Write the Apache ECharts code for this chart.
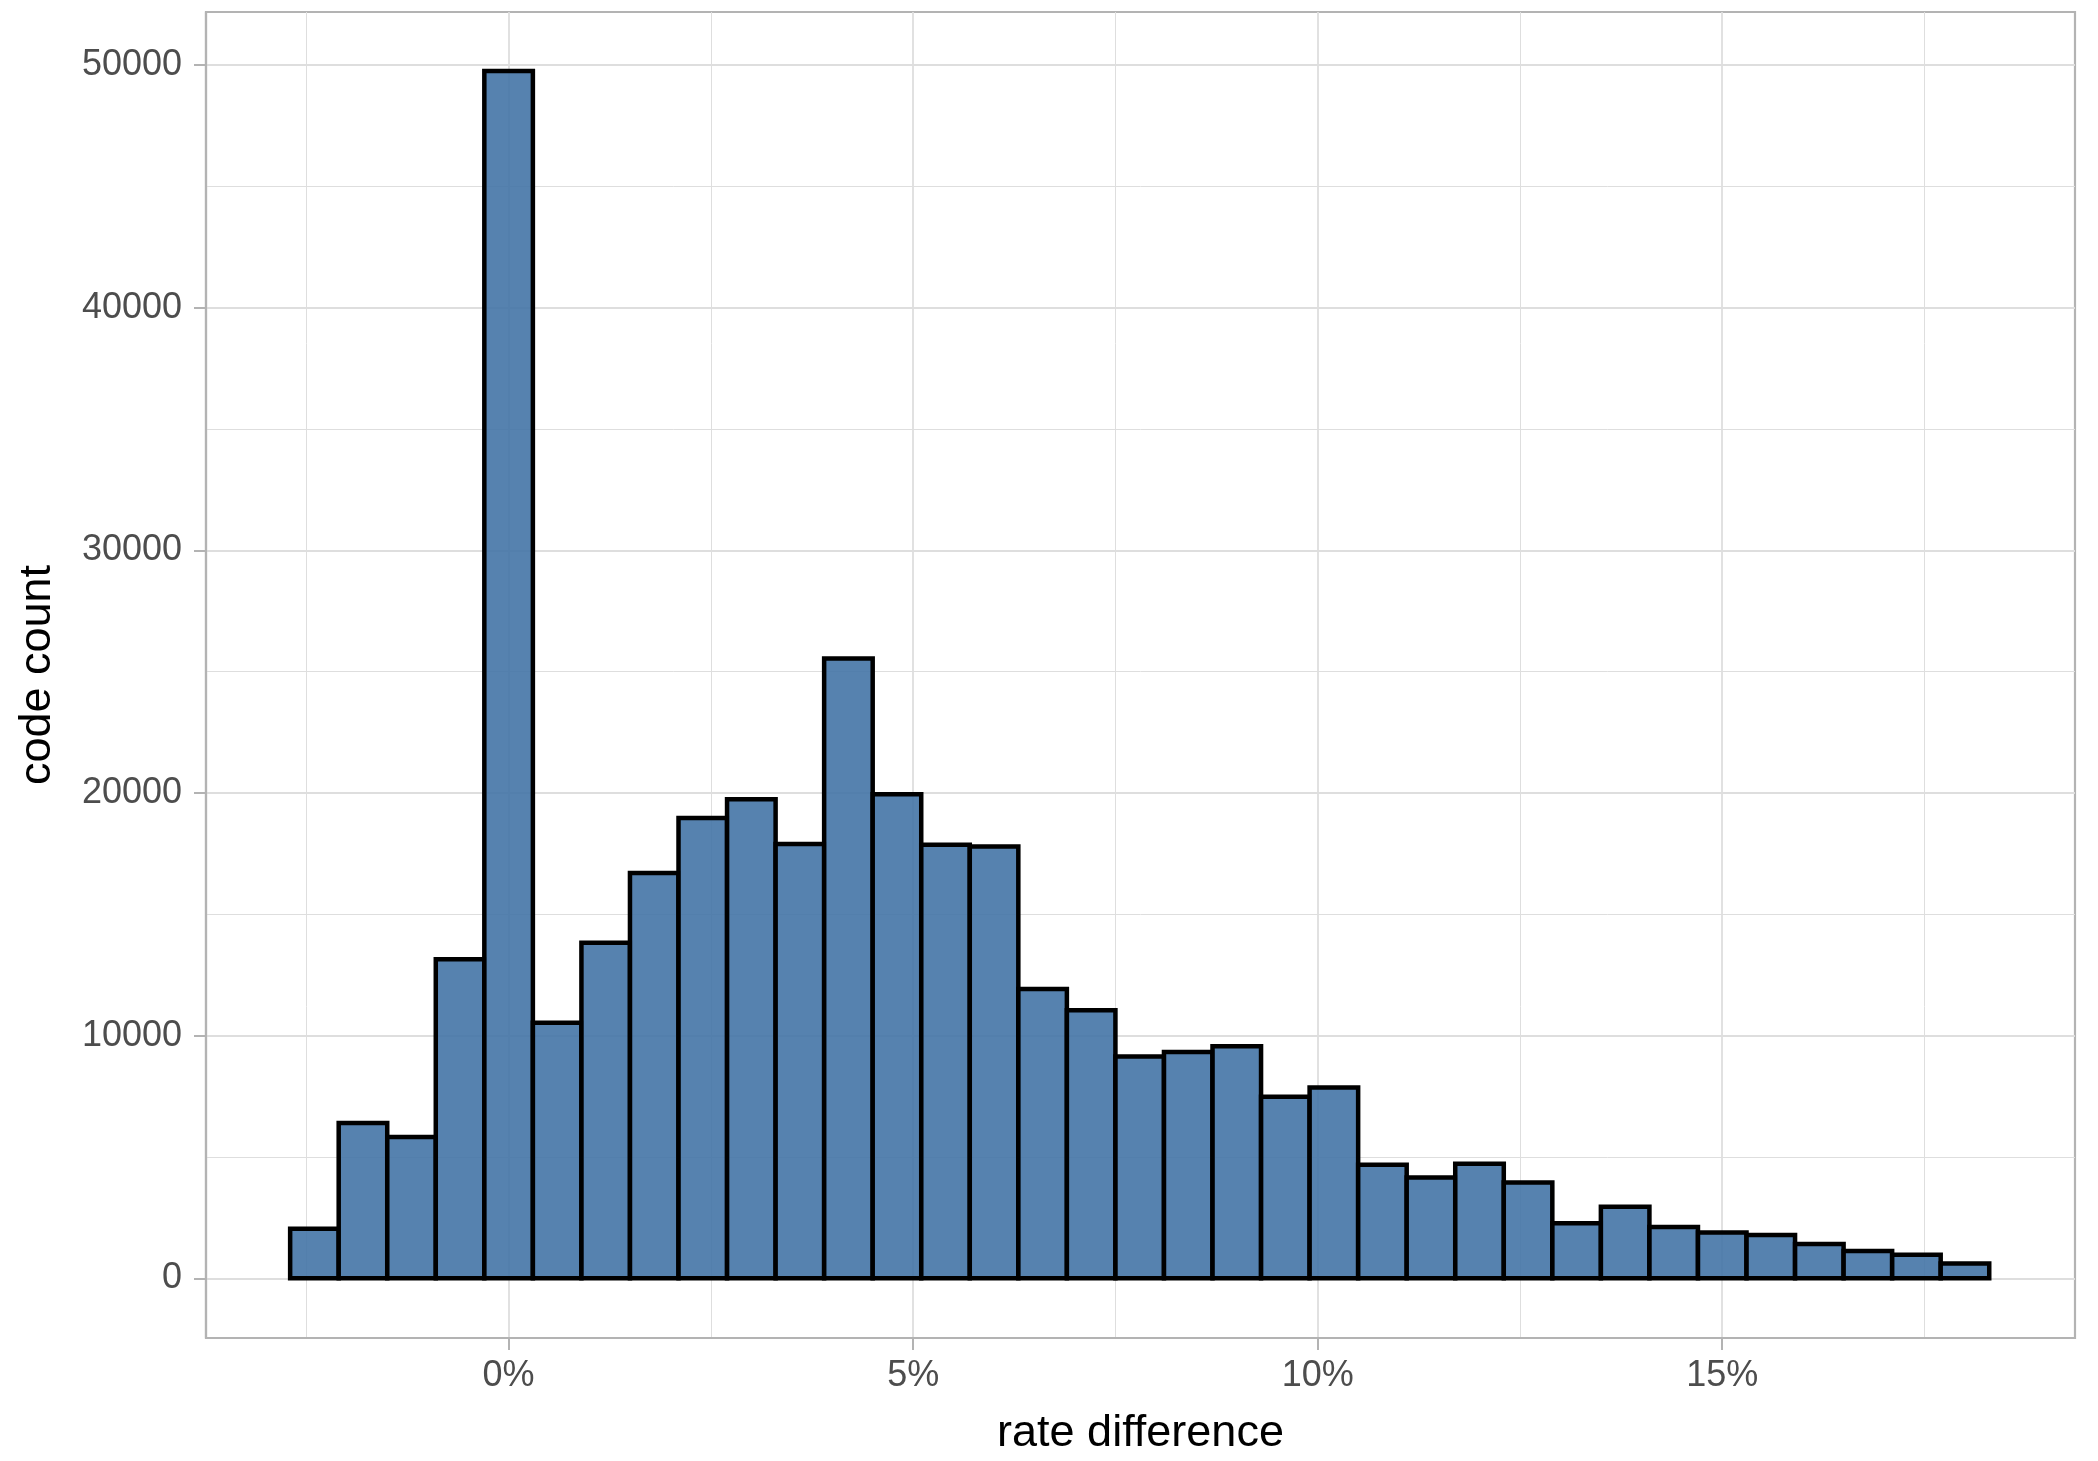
<!DOCTYPE html>
<html lang="en">
<head>
    <meta charset="UTF-8">
    <title>rate difference histogram</title>
    <style>
        html, body {
            margin: 0;
            padding: 0;
            background: #ffffff;
        }

        #main {
            width: 2098px;
            height: 1461px;
        }
    </style>
    <script src="https://cdn.jsdelivr.net/npm/echarts@6/dist/echarts.min.js"></script>
</head>
<body>
<div id="main"></div>
<script>
    // bin centres (rate difference, %), bins are 0.6 wide
    var binCenters = [-2.4, -1.8, -1.2, -0.6, 0.0, 0.6, 1.2, 1.8, 2.4, 3.0, 3.6, 4.2, 4.8, 5.4, 6.0, 6.6, 7.2,
        7.8, 8.4, 9.0, 9.6, 10.2, 10.8, 11.4, 12.0, 12.6, 13.2, 13.8, 14.4, 15.0, 15.6, 16.2, 16.8, 17.4, 18.0];
    // code count per bin
    var codeCounts = [2040, 6400, 5820, 13150, 49750, 10530, 13830, 16700, 18970, 19740, 17900, 25540, 19950,
        17870, 17790, 11920, 11050, 9140, 9320, 9560, 7480, 7860, 4680, 4150, 4720, 3950, 2270, 2950, 2110,
        1890, 1780, 1410, 1120, 970, 610];
    var binWidth = 0.6;

    // tick labels / grid lines
    var xMajorTicks = [0, 5, 10, 15];
    var xMinorTicks = [-2.5, 2.5, 7.5, 12.5, 17.5];
    var yMajorTicks = [0, 10000, 20000, 30000, 40000, 50000];
    var yMinorTicks = [5000, 15000, 25000, 35000, 45000];

    var histData = [];
    for (var i = 0; i < binCenters.length; i++) {
        histData.push([binCenters[i], codeCounts[i]]);
    }

    var myChart = echarts.init(document.getElementById('main'));

    var borderGrey = '#b3b3b3';
    var gridGrey = '#dedede';

    var option = {
        animation: false,
        textStyle: {
            fontFamily: 'Liberation Sans, Arial, sans-serif'
        },
        grid: {
            left: 206,
            right: 23,
            top: 12,
            bottom: 112,
            show: true,
            borderColor: borderGrey,
            borderWidth: 2.2,
            backgroundColor: 'transparent'
        },
        xAxis: [
            {
                type: 'value',
                min: -3.74,
                max: 19.36,
                name: 'rate difference',
                nameLocation: 'middle',
                nameGap: 73,
                nameTextStyle: {fontSize: 45, color: '#000000'},
                axisLine: {show: true, onZero: false, lineStyle: {color: borderGrey, width: 2.2}},
                axisTick: {
                    show: true,
                    length: 12,
                    customValues: xMajorTicks,
                    lineStyle: {color: borderGrey, width: 2}
                },
                axisLabel: {
                    customValues: xMajorTicks,
                    fontSize: 36,
                    color: '#4d4d4d',
                    margin: 20,
                    formatter: function (v) {
                        return v + '%';
                    }
                },
                splitLine: {show: true, lineStyle: {color: gridGrey, width: 1.8}}
            },
            {
                type: 'value',
                min: -3.74,
                max: 19.36,
                axisLine: {show: false},
                axisTick: {show: false, customValues: xMinorTicks},
                axisLabel: {show: false, customValues: xMinorTicks},
                splitLine: {show: true, lineStyle: {color: gridGrey, width: 1.0}}
            }
        ],
        yAxis: [
            {
                type: 'value',
                min: -2460,
                max: 52180,
                name: 'code count',
                nameLocation: 'middle',
                nameGap: 146,
                nameTextStyle: {fontSize: 45, color: '#000000'},
                axisLine: {show: true, onZero: false, lineStyle: {color: borderGrey, width: 2.2}},
                axisTick: {
                    show: true,
                    length: 12,
                    customValues: yMajorTicks,
                    lineStyle: {color: borderGrey, width: 2}
                },
                axisLabel: {
                    customValues: yMajorTicks,
                    fontSize: 36,
                    color: '#4d4d4d',
                    margin: 24,
                    formatter: function (v) {
                        return String(v);
                    }
                },
                splitLine: {show: true, lineStyle: {color: gridGrey, width: 1.8}}
            },
            {
                type: 'value',
                min: -2460,
                max: 52180,
                axisLine: {show: false},
                axisTick: {show: false, customValues: yMinorTicks},
                axisLabel: {show: false, customValues: yMinorTicks},
                splitLine: {show: true, lineStyle: {color: gridGrey, width: 1.0}}
            }
        ],
        series: [
            {
                type: 'custom',
                xAxisIndex: 0,
                yAxisIndex: 0,
                data: histData,
                renderItem: function (params, api) {
                    var x = api.value(0);
                    var y = api.value(1);
                    var topLeft = api.coord([x - binWidth / 2, y]);
                    var bottomRight = api.coord([x + binWidth / 2, 0]);
                    return {
                        type: 'rect',
                        shape: {
                            x: topLeft[0],
                            y: topLeft[1],
                            width: bottomRight[0] - topLeft[0],
                            height: bottomRight[1] - topLeft[1]
                        },
                        style: {
                            fill: 'rgba(68,116,166,0.9)',
                            stroke: '#000000',
                            lineWidth: 4.5
                        }
                    };
                }
            }
        ]
    };

    myChart.setOption(option);
</script>
</body>
</html>
